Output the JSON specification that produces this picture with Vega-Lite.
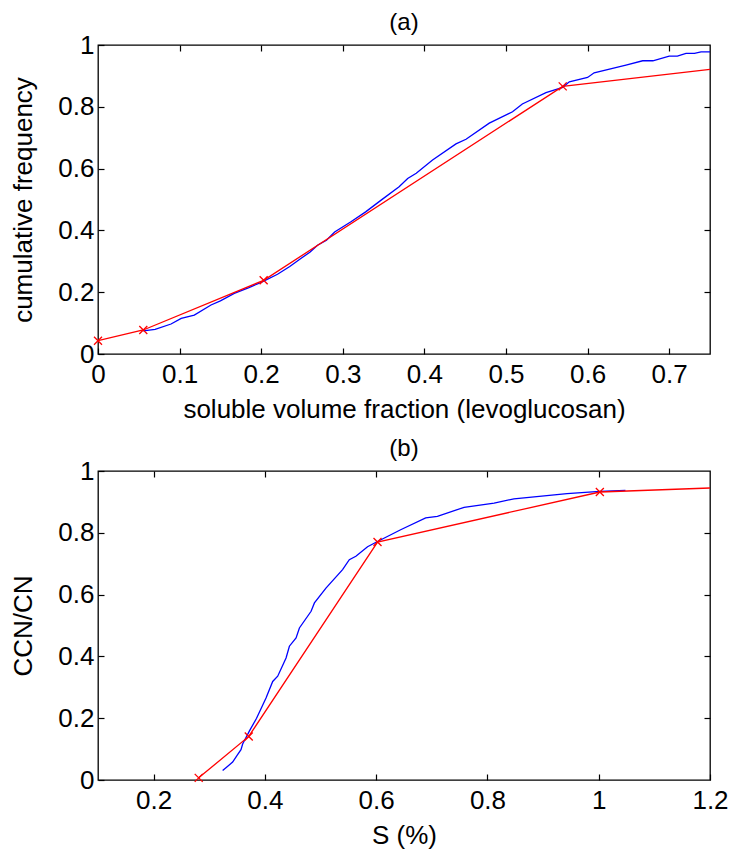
{
  "$schema": "https://vega.github.io/schema/vega-lite/v6.json",
  "padding": {"left": 10, "top": 10, "right": 10, "bottom": 5},
  "background": "white",
  "spacing": 13,
  "config": {
    "font": "Liberation Sans",
    "view": {"stroke": "black", "strokeWidth": 1.3},
    "axis": {
      "domain": false,
      "grid": false,
      "tickColor": "black",
      "tickSize": -6,
      "tickWidth": 1.2,
      "labelFont": "Liberation Sans",
      "labelFontSize": 26,
      "labelColor": "black",
      "labelFlush": false,
      "labelOverlap": false,
      "titleFont": "Liberation Sans",
      "titleFontSize": 26,
      "titleFontWeight": "normal",
      "titleColor": "black",
      "format": "~g"
    },
    "title": {"font": "Liberation Sans", "fontSize": 24, "fontWeight": "normal", "color": "black", "anchor": "middle", "frame": "group", "offset": -3}
  },
  "datasets": {
    "aBlue": [
      {"x": 0.0555, "y": 0.075}, {"x": 0.07, "y": 0.08}, {"x": 0.0895, "y": 0.097}, {"x": 0.102, "y": 0.1155},
      {"x": 0.118, "y": 0.126}, {"x": 0.1385, "y": 0.1586}, {"x": 0.15, "y": 0.172}, {"x": 0.167, "y": 0.196},
      {"x": 0.185, "y": 0.215}, {"x": 0.2, "y": 0.232}, {"x": 0.22, "y": 0.258}, {"x": 0.235, "y": 0.283},
      {"x": 0.249, "y": 0.31}, {"x": 0.26, "y": 0.33}, {"x": 0.269, "y": 0.352}, {"x": 0.28, "y": 0.368},
      {"x": 0.29, "y": 0.395}, {"x": 0.31, "y": 0.428}, {"x": 0.328, "y": 0.46}, {"x": 0.347, "y": 0.498},
      {"x": 0.369, "y": 0.541}, {"x": 0.3795, "y": 0.568}, {"x": 0.39, "y": 0.585}, {"x": 0.41, "y": 0.628},
      {"x": 0.4387, "y": 0.68}, {"x": 0.451, "y": 0.695}, {"x": 0.4795, "y": 0.747}, {"x": 0.508, "y": 0.784},
      {"x": 0.52, "y": 0.809}, {"x": 0.549, "y": 0.846}, {"x": 0.5695, "y": 0.863}, {"x": 0.5776, "y": 0.881},
      {"x": 0.6, "y": 0.895}, {"x": 0.608, "y": 0.91}, {"x": 0.647, "y": 0.935}, {"x": 0.6675, "y": 0.949},
      {"x": 0.68, "y": 0.949}, {"x": 0.7, "y": 0.964}, {"x": 0.71, "y": 0.964}, {"x": 0.7206, "y": 0.973},
      {"x": 0.731, "y": 0.973}, {"x": 0.739, "y": 0.978}, {"x": 0.75, "y": 0.978}
    ],
    "aRed": [
      {"x": 0, "y": 0.043, "m": true}, {"x": 0.0555, "y": 0.0777, "m": true}, {"x": 0.203, "y": 0.2385, "m": true},
      {"x": 0.5695, "y": 0.866, "m": true}, {"x": 0.75, "y": 0.921, "m": false}
    ],
    "bBlue": [
      {"x": 0.324, "y": 0.031}, {"x": 0.33, "y": 0.04}, {"x": 0.342, "y": 0.058}, {"x": 0.35, "y": 0.08},
      {"x": 0.357, "y": 0.098}, {"x": 0.36, "y": 0.1165}, {"x": 0.372, "y": 0.158}, {"x": 0.385, "y": 0.2},
      {"x": 0.402, "y": 0.265}, {"x": 0.414, "y": 0.319}, {"x": 0.423, "y": 0.336}, {"x": 0.438, "y": 0.395},
      {"x": 0.444, "y": 0.433}, {"x": 0.456, "y": 0.4595}, {"x": 0.462, "y": 0.492}, {"x": 0.483, "y": 0.546},
      {"x": 0.489, "y": 0.573}, {"x": 0.5097, "y": 0.621}, {"x": 0.5396, "y": 0.681}, {"x": 0.5517, "y": 0.713},
      {"x": 0.5635, "y": 0.724}, {"x": 0.5845, "y": 0.755}, {"x": 0.6024, "y": 0.772}, {"x": 0.644, "y": 0.81},
      {"x": 0.689, "y": 0.848}, {"x": 0.71, "y": 0.853}, {"x": 0.758, "y": 0.8825}, {"x": 0.812, "y": 0.896},
      {"x": 0.8476, "y": 0.91}, {"x": 0.943, "y": 0.927}, {"x": 1.002, "y": 0.934}, {"x": 1.048, "y": 0.937}
    ],
    "bRed": [
      {"x": 0.281, "y": 0.007, "m": true}, {"x": 0.371, "y": 0.141, "m": true}, {"x": 0.6024, "y": 0.77, "m": true},
      {"x": 1.002, "y": 0.932, "m": true}, {"x": 1.2, "y": 0.945, "m": false}
    ]
  },
  "vconcat": [
    {
      "width": 612,
      "height": 309,
      "title": {"text": "(a)"},
      "resolve": {"axis": {"x": "independent", "y": "independent"}},
      "layer": [
        {
          "data": {"name": "aBlue"},
          "mark": {"type": "line", "color": "#0000ff", "strokeWidth": 1.3, "clip": true},
          "encoding": {
            "x": {"field": "x", "type": "quantitative", "scale": {"domain": [0, 0.75], "nice": false},
                  "axis": {"orient": "bottom", "values": [0, 0.1, 0.2, 0.3, 0.4, 0.5, 0.6, 0.7], "title": "soluble volume fraction (levoglucosan)", "labelPadding": 13, "titlePadding": 9}},
            "y": {"field": "y", "type": "quantitative", "scale": {"domain": [0, 1], "nice": false},
                  "axis": {"orient": "left", "values": [0, 0.2, 0.4, 0.6, 0.8, 1], "title": "cumulative frequency", "labelPadding": 10, "titlePadding": 21}}
          }
        },
        {
          "data": {"name": "aRed"},
          "mark": {"type": "line", "color": "#ff0000", "strokeWidth": 1.3, "clip": true},
          "encoding": {
            "x": {"field": "x", "type": "quantitative", "scale": {"domain": [0, 0.75], "nice": false},
                  "axis": {"orient": "top", "values": [0.1, 0.2, 0.3, 0.4, 0.5, 0.6, 0.7], "labels": false, "title": null}},
            "y": {"field": "y", "type": "quantitative", "scale": {"domain": [0, 1], "nice": false},
                  "axis": {"orient": "right", "values": [0.2, 0.4, 0.6, 0.8], "labels": false, "title": null}}
          }
        },
        {
          "data": {"name": "aRed"},
          "transform": [{"filter": "datum.m"}],
          "mark": {"type": "point", "shape": "M-1,-1L1,1M-1,1L1,-1", "color": "#ff0000", "size": 64, "strokeWidth": 1.3, "filled": false, "opacity": 1},
          "encoding": {
            "x": {"field": "x", "type": "quantitative", "axis": null},
            "y": {"field": "y", "type": "quantitative", "axis": null}
          }
        }
      ]
    },
    {
      "width": 612,
      "height": 309,
      "title": {"text": "(b)"},
      "resolve": {"axis": {"x": "independent", "y": "independent"}},
      "layer": [
        {
          "data": {"name": "bBlue"},
          "mark": {"type": "line", "color": "#0000ff", "strokeWidth": 1.3, "clip": true},
          "encoding": {
            "x": {"field": "x", "type": "quantitative", "scale": {"domain": [0.1, 1.2], "nice": false},
                  "axis": {"orient": "bottom", "values": [0.2, 0.4, 0.6, 0.8, 1, 1.2], "title": "S (%)", "labelPadding": 13, "titlePadding": 9}},
            "y": {"field": "y", "type": "quantitative", "scale": {"domain": [0, 1], "nice": false},
                  "axis": {"orient": "left", "values": [0, 0.2, 0.4, 0.6, 0.8, 1], "title": "CCN/CN", "labelPadding": 10, "titlePadding": 21}}
          }
        },
        {
          "data": {"name": "bRed"},
          "mark": {"type": "line", "color": "#ff0000", "strokeWidth": 1.3, "clip": true},
          "encoding": {
            "x": {"field": "x", "type": "quantitative", "scale": {"domain": [0.1, 1.2], "nice": false},
                  "axis": {"orient": "top", "values": [0.2, 0.4, 0.6, 0.8, 1], "labels": false, "title": null}},
            "y": {"field": "y", "type": "quantitative", "scale": {"domain": [0, 1], "nice": false},
                  "axis": {"orient": "right", "values": [0.2, 0.4, 0.6, 0.8], "labels": false, "title": null}}
          }
        },
        {
          "data": {"name": "bRed"},
          "transform": [{"filter": "datum.m"}],
          "mark": {"type": "point", "shape": "M-1,-1L1,1M-1,1L1,-1", "color": "#ff0000", "size": 64, "strokeWidth": 1.3, "filled": false, "opacity": 1},
          "encoding": {
            "x": {"field": "x", "type": "quantitative", "axis": null},
            "y": {"field": "y", "type": "quantitative", "axis": null}
          }
        }
      ]
    }
  ]
}
